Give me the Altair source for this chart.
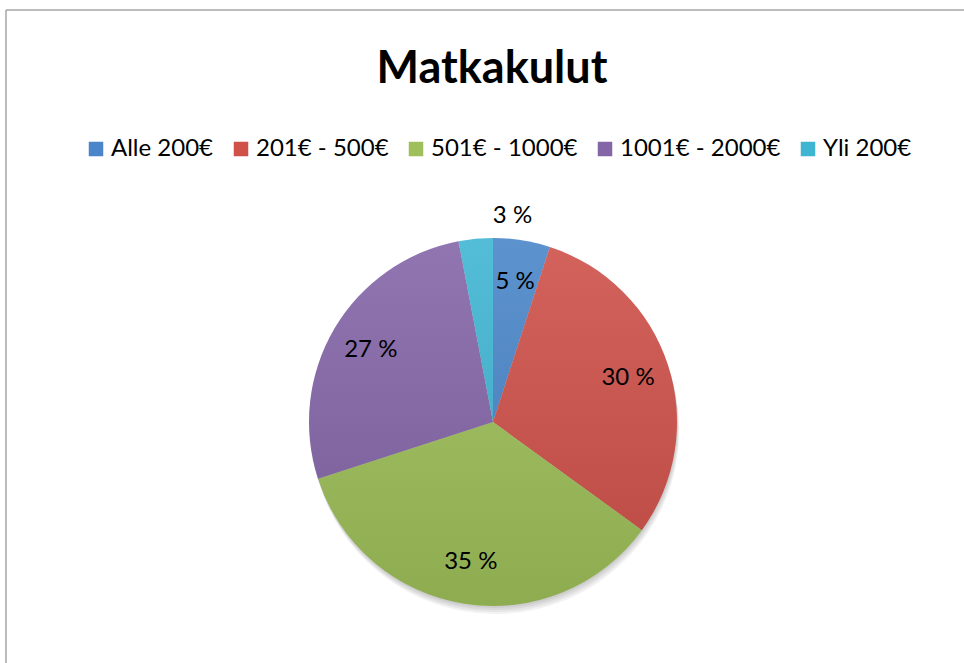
import altair as alt
import pandas as pd

# Data
categories = ["Alle 200€", "201€ - 500€", "501€ - 1000€", "1001€ - 2000€", "Yli 200€"]
values = [5, 30, 35, 27, 3]
colors = ["#4a86c9", "#cf514a", "#9ebf59", "#8466a8", "#40b5d2"]
title_text = "Matkakulut"

df = pd.DataFrame({"category": categories, "value": values, "order": list(range(len(categories)))})
one = pd.DataFrame({"k": [0]})

CX, CY, R = 493, 422, 184
FONT = "Lato"

theta = alt.Theta("value:Q", stack=True)
order = alt.Order("order:Q")

# soft shadow below the pie
shadows = [
    alt.Chart(one).mark_arc(radius=R, theta=0, theta2=6.2832, color="#000000",
                            opacity=0.05, yOffset=dy, xOffset=dy * 0.3)
    .encode(x=alt.value(CX), y=alt.value(CY))
    for dy in (2, 4, 6, 8)
]

pie = alt.Chart(df).mark_arc(radius=R).encode(
    theta=theta,
    order=order,
    x=alt.value(CX),
    y=alt.value(CY),
    color=alt.Color(
        "category:N",
        sort=categories,
        scale=alt.Scale(domain=categories, range=colors),
        legend=alt.Legend(
            orient="none", legendX=84, legendY=137, direction="horizontal", columns=5,
            title=None, symbolType="square", symbolSize=210, symbolStrokeWidth=0,
            symbolOpacity=1, labelFont=FONT, labelFontSize=24, labelColor="#000000",
            columnPadding=15, padding=0, labelOffset=3, labelLimit=0,
        ),
    ),
)

shade = alt.Chart(one).mark_arc(
    radius=R, theta=0, theta2=6.2832,
    fill=alt.Gradient(
        gradient="linear",
        stops=[
            alt.GradientStop(color="rgba(255,255,255,0.10)", offset=0),
            alt.GradientStop(color="rgba(0,0,0,0.10)", offset=1),
        ],
        x1=0, x2=0, y1=0, y2=1,
    ),
).encode(x=alt.value(CX), y=alt.value(CY))

labels = alt.Chart(df).transform_calculate(
    label="datum.value + ' %'",
    r="datum.value < 4 ? 207 : 142",
).mark_text(font=FONT, fontSize=24, color="#000000", align="center", baseline="middle").encode(
    theta=theta,
    order=order,
    radius=alt.Radius("r:Q", scale=None),
    text="label:N",
    x=alt.value(CX),
    y=alt.value(CY),
)

frame_left = alt.Chart(one).mark_rule(color="#a6a6a6", strokeWidth=1.5).encode(
    x=alt.value(6), y=alt.value(10), y2=alt.value(663)
)
frame_top = alt.Chart(one).mark_rule(color="#a6a6a6", strokeWidth=1.5).encode(
    x=alt.value(6), x2=alt.value(964), y=alt.value(10)
)

chart = alt.layer(
    frame_left, frame_top, *shadows, pie, shade, labels
).properties(
    width=964,
    height=663,
    padding=0,
    autosize=alt.AutoSizeParams(type="none"),
    title=alt.TitleParams(
        title_text, font=FONT, fontSize=45, fontWeight="bold", color="#000000",
        anchor="middle", frame="group", offset=-92, dx=10,
    ),
).configure_view(stroke=None)

chart.save("out.html", embed_options={"renderer": "svg", "actions": False})
